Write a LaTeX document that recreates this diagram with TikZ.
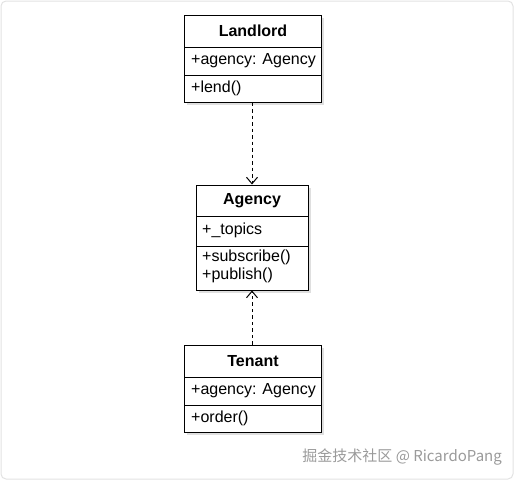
\documentclass[tikz,border=0pt]{standalone}
\usepackage{fontspec}
\setmainfont{Liberation Sans}
\newfontfamily\cjk{Noto Sans CJK SC}
\usetikzlibrary{arrows.meta,shadows}
\definecolor{frame}{HTML}{E2E2E2}
\definecolor{wm}{HTML}{9A9A9A}
\tikzset{
  classbox/.style={draw=black, line width=1pt, fill=white, inner sep=0pt,
    drop shadow={shadow xshift=2.5pt, shadow yshift=-2.5pt, fill=black!25, opacity=0.5}},
  title/.style={font=\fontsize{16}{19}\selectfont\bfseries, inner sep=0pt},
  member/.style={font=\fontsize{16}{19}\selectfont, inner sep=0pt, anchor=west},
  divider/.style={line width=1pt},
  dep/.style={dashed, dash pattern=on 3.5pt off 3pt, line width=1pt,
    -{Straight Barb[length=6.5pt,width=11pt,line width=1pt]}},
}
\begin{document}
\begin{tikzpicture}[x=1pt,y=-1pt]
\useasboundingbox (0,0) rectangle (514,480);
\draw[frame, line width=1pt, rounded corners=5pt] (1,1) rectangle (513,479);

% Landlord
\node[classbox, minimum width=137pt, minimum height=87pt] (landlord) at (253,58.5) {};
\draw[divider] (184.5,47) -- (321.5,47);
\draw[divider] (184.5,75) -- (321.5,75);
\node[title] (landlordT) at (253,31) {Landlord};
\node[member] (landlordA) at (191,60.5) {+agency: Agency};
\node[member] (landlordM) at (191,88.5) {+lend()};

% Agency
\node[classbox, minimum width=112pt, minimum height=105pt] (agency) at (252,237.5) {};
\draw[divider] (196,216) -- (308,216);
\draw[divider] (196,246) -- (308,246);
\node[title] (agencyT) at (252,200.5) {Agency};
\node[member] (agencyA) at (202,230) {+\_topics};
\node[member] (agencyM1) at (202,257.5) {+subscribe()};
\node[member] (agencyM2) at (202,275.5) {+publish()};

% Tenant
\node[classbox, minimum width=137pt, minimum height=87pt] (tenant) at (253,388.5) {};
\draw[divider] (184.5,377) -- (321.5,377);
\draw[divider] (184.5,405) -- (321.5,405);
\node[title] (tenantT) at (253,361) {Tenant};
\node[member] (tenantA) at (191,390.5) {+agency: Agency};
\node[member] (tenantM) at (191,418.5) {+order()};

% dependencies
\draw[dep] (agency.north |- landlord.south) -- (agency.north);
\draw[dep] (agency.south |- tenant.north) -- (agency.south);

% watermark
\node[font=\cjk\fontsize{15}{18}\selectfont, text=wm, anchor=east, inner sep=0pt] (wmk) at (502,457) {掘金技术社区 @ RicardoPang};
\end{tikzpicture}
\end{document}
